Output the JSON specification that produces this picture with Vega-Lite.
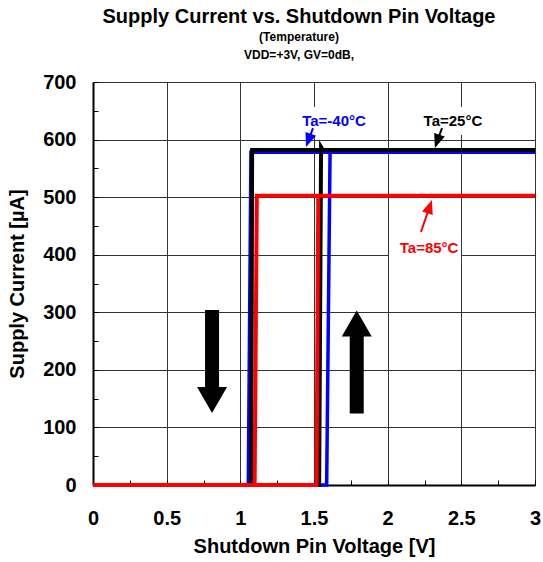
{
  "$schema": "https://vega.github.io/schema/vega-lite/v6.json",
  "width": 442,
  "height": 403,
  "autosize": {"type": "none"},
  "padding": {"left": 93, "top": 82, "right": 8, "bottom": 77},
  "background": "white",
  "config": {
    "font": "Liberation Sans",
    "view": {"stroke": null},
    "axis": {
      "labelFont": "Liberation Sans",
      "labelFontSize": 20,
      "labelFontWeight": "bold",
      "labelColor": "#000000",
      "titleFont": "Liberation Sans",
      "titleFontSize": 20,
      "titleFontWeight": "bold",
      "titleColor": "#000000",
      "domainColor": "#000000",
      "domainWidth": 2,
      "tickColor": "#000000",
      "tickWidth": 1,
      "tickSize": -5,
      "gridColor": "#333333",
      "gridWidth": 1
    }
  },
  "title": {
    "text": "Supply Current vs. Shutdown Pin Voltage",
    "subtitle": ["(Temperature)", "VDD=+3V, GV=0dB,"],
    "font": "Liberation Sans",
    "fontSize": 20,
    "fontWeight": "bold",
    "color": "#000000",
    "subtitleFont": "Liberation Sans",
    "subtitleFontSize": 12,
    "subtitleFontWeight": "bold",
    "subtitleColor": "#000000",
    "subtitlePadding": 5,
    "subtitleLineHeight": 18,
    "anchor": "middle",
    "frame": "group",
    "dx": -15,
    "offset": 11
  },
  "datasets": {
    "curves": [
      {"series": "Ta=-40°C", "k": 0, "v": 0, "i": 0},
      {"series": "Ta=-40°C", "k": 1, "v": 1.586, "i": 0},
      {"series": "Ta=-40°C", "k": 2, "v": 1.609, "i": 578},
      {"series": "Ta=-40°C", "k": 3, "v": 3, "i": 578},
      {"series": "Ta=-40°C", "k": 4, "v": 1.072, "i": 578},
      {"series": "Ta=-40°C", "k": 5, "v": 1.054, "i": 0},
      {"series": "Ta=-40°C", "k": 6, "v": 0, "i": 0},
      {"series": "Ta=25°C", "k": 0, "v": 0, "i": 0},
      {"series": "Ta=25°C", "k": 1, "v": 1.535, "i": 0},
      {"series": "Ta=25°C", "k": 2, "v": 1.548, "i": 587},
      {"series": "Ta=25°C", "k": 3, "v": 1.56, "i": 582},
      {"series": "Ta=25°C", "k": 4, "v": 3, "i": 582},
      {"series": "Ta=25°C", "k": 5, "v": 1.08, "i": 582},
      {"series": "Ta=25°C", "k": 6, "v": 1.074, "i": 0},
      {"series": "Ta=25°C", "k": 7, "v": 0, "i": 0},
      {"series": "Ta=85°C", "k": 0, "v": 0, "i": 0},
      {"series": "Ta=85°C", "k": 1, "v": 1.517, "i": 0},
      {"series": "Ta=85°C", "k": 2, "v": 1.529, "i": 502.5},
      {"series": "Ta=85°C", "k": 3, "v": 3, "i": 502.5},
      {"series": "Ta=85°C", "k": 4, "v": 1.112, "i": 502.5},
      {"series": "Ta=85°C", "k": 5, "v": 1.097, "i": 0},
      {"series": "Ta=85°C", "k": 6, "v": 0, "i": 0}
    ],
    "bigArrows": [
      {"dir": "down", "v": 0.808, "i": 214.5},
      {"dir": "up", "v": 1.79, "i": 213.7}
    ],
    "boxes": [
      {"series": "Ta=-40°C", "v": 1.378, "v2": 1.894, "i": 608, "i2": 656.6},
      {"series": "Ta=25°C", "v": 2.22, "v2": 2.68, "i": 608, "i2": 656.6},
      {"series": "Ta=85°C", "v": 2.009, "v2": 2.498, "i": 387.4, "i2": 432.5}
    ],
    "pointers": [
      {"series": "Ta=-40°C", "v": 1.493, "i": 620, "v2": 1.462, "i2": 598.6},
      {"series": "Ta=25°C", "v": 2.369, "i": 620, "v2": 2.336, "i2": 596.8},
      {"series": "Ta=85°C", "v": 2.226, "i": 439.5, "v2": 2.285, "i2": 483.6}
    ],
    "labels": [
      {"series": "Ta=-40°C", "v": 1.636, "i": 632.3},
      {"series": "Ta=25°C", "v": 2.443, "i": 632.3},
      {"series": "Ta=85°C", "v": 2.281, "i": 411.7}
    ]
  },
  "encoding": {
    "x": {
      "field": "v",
      "type": "quantitative",
      "scale": {"domain": [0, 3], "nice": false, "zero": false},
      "axis": {
        "title": "Shutdown Pin Voltage [V]",
        "values": [0, 0.25, 0.5, 0.75, 1, 1.25, 1.5, 1.75, 2, 2.25, 2.5, 2.75, 3],
        "labelExpr": "datum.value % 0.5 == 0 ? format(datum.value, '~g') : ''",
        "gridOpacity": {"condition": {"test": "datum.value % 0.5 != 0", "value": 0}, "value": 1},
        "labelPadding": 28,
        "titlePadding": 8,
        "labelFlush": false,
        "labelOverlap": false
      }
    },
    "y": {
      "field": "i",
      "type": "quantitative",
      "scale": {"domain": [0, 700], "nice": false},
      "axis": {
        "title": "Supply Current [µA]",
        "values": [0, 50, 100, 150, 200, 250, 300, 350, 400, 450, 500, 550, 600, 650, 700],
        "labelExpr": "datum.value % 100 == 0 ? format(datum.value, 'd') : ''",
        "gridOpacity": {"condition": {"test": "datum.value % 100 != 0", "value": 0}, "value": 1},
        "labelPadding": 22,
        "titlePadding": 15,
        "labelFlush": false,
        "labelOverlap": false
      }
    }
  },
  "layer": [
    {
      "data": {"name": "boxes"},
      "mark": {"type": "rect", "fill": "white", "stroke": null},
      "encoding": {"x2": {"field": "v2"}, "y2": {"field": "i2"}}
    },
    {
      "data": {"name": "curves"},
      "transform": [{"filter": "datum.series == 'Ta=-40°C'"}],
      "mark": {"type": "line", "color": "#0000FF", "strokeWidth": 3.5, "strokeJoin": "miter"},
      "encoding": {"order": {"field": "k", "type": "quantitative"}}
    },
    {
      "data": {"name": "curves"},
      "transform": [{"filter": "datum.series == 'Ta=25°C'"}],
      "mark": {"type": "line", "color": "#000000", "strokeWidth": 4, "strokeJoin": "miter"},
      "encoding": {"order": {"field": "k", "type": "quantitative"}}
    },
    {
      "data": {"name": "curves"},
      "transform": [{"filter": "datum.series == 'Ta=85°C'"}],
      "mark": {"type": "line", "color": "#FF0000", "strokeWidth": 4, "strokeJoin": "miter"},
      "encoding": {"order": {"field": "k", "type": "quantitative"}}
    },
    {
      "data": {"name": "bigArrows"},
      "mark": {"type": "point", "filled": true, "color": "#000000", "opacity": 1, "size": 10609, "strokeWidth": 0},
      "encoding": {
        "shape": {
          "field": "dir",
          "type": "nominal",
          "scale": {
            "domain": ["down", "up"],
            "range": [
              "M-0.136,-1L0.136,-1L0.136,0.495L0.291,0.495L0,1L-0.291,0.495L-0.136,0.495Z",
              "M-0.136,1L0.136,1L0.136,-0.495L0.291,-0.495L0,-1L-0.291,-0.495L-0.136,-0.495Z"
            ]
          },
          "legend": null
        }
      }
    },
    {
      "data": {"name": "pointers"},
      "mark": {"type": "rule", "strokeWidth": 2},
      "encoding": {
        "x2": {"field": "v2"},
        "y2": {"field": "i2"},
        "color": {
          "field": "series",
          "type": "nominal",
          "scale": {"domain": ["Ta=-40°C", "Ta=25°C", "Ta=85°C"], "range": ["#0000FF", "#000000", "#FF0000"]},
          "legend": null
        }
      }
    },
    {
      "data": {"name": "pointers"},
      "transform": [{"filter": "datum.series == 'Ta=-40°C'"}],
      "mark": {"type": "point", "filled": true, "opacity": 1, "color": "#0000FF", "shape": "M0,-1L0.8,1L-0.8,1Z", "size": 196, "angle": 200, "strokeWidth": 0},
      "encoding": {"x": {"field": "v2", "type": "quantitative"}, "y": {"field": "i2", "type": "quantitative"}}
    },
    {
      "data": {"name": "pointers"},
      "transform": [{"filter": "datum.series == 'Ta=25°C'"}],
      "mark": {"type": "point", "filled": true, "opacity": 1, "color": "#000000", "shape": "M0,-1L0.8,1L-0.8,1Z", "size": 196, "angle": 199, "strokeWidth": 0},
      "encoding": {"x": {"field": "v2", "type": "quantitative"}, "y": {"field": "i2", "type": "quantitative"}}
    },
    {
      "data": {"name": "pointers"},
      "transform": [{"filter": "datum.series == 'Ta=85°C'"}],
      "mark": {"type": "point", "filled": true, "opacity": 1, "color": "#FF0000", "shape": "M0,-1L0.8,1L-0.8,1Z", "size": 196, "angle": 19, "strokeWidth": 0},
      "encoding": {"x": {"field": "v2", "type": "quantitative"}, "y": {"field": "i2", "type": "quantitative"}}
    },
    {
      "data": {"name": "labels"},
      "mark": {"type": "text", "font": "Liberation Sans", "fontSize": 15, "fontWeight": "bold", "align": "center", "baseline": "middle"},
      "encoding": {
        "text": {"field": "series"},
        "color": {
          "field": "series",
          "type": "nominal",
          "scale": {"domain": ["Ta=-40°C", "Ta=25°C", "Ta=85°C"], "range": ["#0000FF", "#000000", "#FF0000"]},
          "legend": null
        }
      }
    }
  ]
}
